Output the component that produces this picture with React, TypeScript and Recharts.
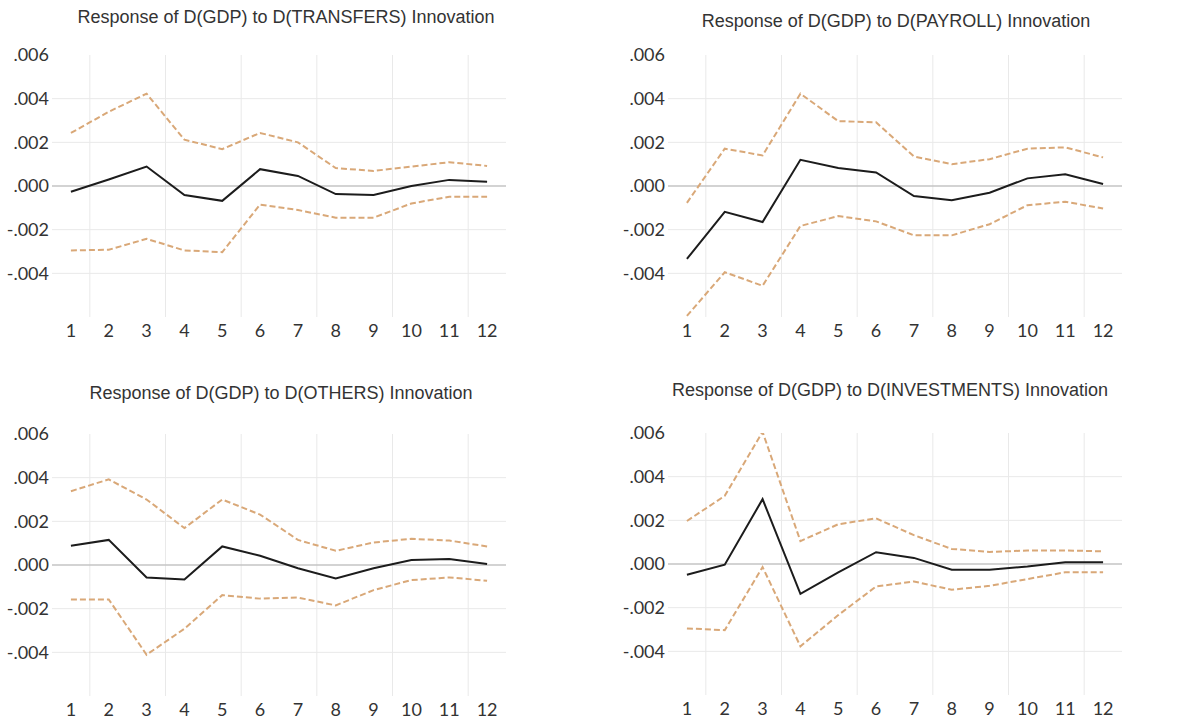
import React from "react";
import { LineChart, Line, XAxis, YAxis, CartesianGrid, ReferenceLine } from "recharts";

const periods = [1, 2, 3, 4, 5, 6, 7, 8, 9, 10, 11, 12];
const yTicks = [-0.004, -0.002, 0, 0.002, 0.004, 0.006];
const gridY = [-0.004, -0.002, 0.002, 0.004];
const gridX = [1.5, 3.5, 5.5, 7.5, 9.5, 11.5];

const titles = [
  "Response of D(GDP) to D(TRANSFERS) Innovation",
  "Response of D(GDP) to D(PAYROLL) Innovation",
  "Response of D(GDP) to D(OTHERS) Innovation",
  "Response of D(GDP) to D(INVESTMENTS) Innovation",
];

// values in thousandths (x 0.001)
const transfersResp = [-0.26, 0.3, 0.89, -0.41, -0.68, 0.77, 0.46, -0.37, -0.41, 0.0, 0.28, 0.2];
const transfersUpper = [2.43, 3.4, 4.23, 2.12, 1.69, 2.43, 2.0, 0.82, 0.69, 0.89, 1.09, 0.92];
const transfersLower = [-2.95, -2.92, -2.42, -2.95, -3.03, -0.85, -1.1, -1.45, -1.45, -0.8, -0.49, -0.49];

const payrollResp = [-3.34, -1.18, -1.65, 1.2, 0.82, 0.62, -0.46, -0.65, -0.31, 0.35, 0.54, 0.09];
const payrollUpper = [-0.77, 1.71, 1.4, 4.23, 2.97, 2.92, 1.35, 1.0, 1.23, 1.71, 1.77, 1.31];
const payrollLower = [-5.95, -3.95, -4.57, -1.83, -1.38, -1.62, -2.26, -2.26, -1.75, -0.88, -0.72, -1.03];

const othersResp = [0.88, 1.15, -0.57, -0.66, 0.85, 0.42, -0.15, -0.62, -0.15, 0.23, 0.28, 0.05];
const othersUpper = [3.38, 3.92, 3.0, 1.69, 3.0, 2.31, 1.15, 0.65, 1.03, 1.2, 1.12, 0.85];
const othersLower = [-1.58, -1.58, -4.11, -2.92, -1.38, -1.54, -1.49, -1.85, -1.15, -0.69, -0.57, -0.72];

const investResp = [-0.49, -0.03, 2.97, -1.37, -0.38, 0.54, 0.28, -0.26, -0.26, -0.11, 0.08, 0.08];
const investUpper = [1.97, 3.12, 6.05, 1.05, 1.82, 2.09, 1.32, 0.69, 0.55, 0.62, 0.62, 0.58];
const investLower = [-2.95, -3.03, -0.14, -3.77, -2.34, -1.03, -0.8, -1.18, -1.0, -0.69, -0.38, -0.38];

const build = (r: number[], u: number[], l: number[]) =>
  periods.map((p, i) => ({ p, resp: r[i] / 1000, upper: u[i] / 1000, lower: l[i] / 1000 }));

const panels = [
  { data: build(transfersResp, transfersUpper, transfersLower), left: 0, top: 0, plotLeft: 52, titleX: 286, titleY: 17 },
  { data: build(payrollResp, payrollUpper, payrollLower), left: 600, top: 0, plotLeft: 68, titleX: 896, titleY: 21 },
  { data: build(othersResp, othersUpper, othersLower), left: 0, top: 379, plotLeft: 52, titleX: 281, titleY: 393 },
  { data: build(investResp, investUpper, investLower), left: 600, top: 378, plotLeft: 68, titleX: 890, titleY: 390 },
];

const fmt = (v: number) => {
  const s = Math.abs(v).toFixed(3).replace(/^0/, "");
  return v < -1e-9 ? "-" + s : s;
};

const tickStyle = { fontFamily: "Lato, sans-serif", fontSize: 18, fill: "#333" };
const BAND = "#d9a878";
const PLOT_W = 454;
const PLOT_TOP = 55;
const PLOT_H = 262;
const CHART_W = 600;
const CHART_H = 350;

function Panel({ data, left, top, plotLeft }: any) {
  return (
    <div style={{ position: "absolute", left, top }}>
      <LineChart
        width={CHART_W}
        height={CHART_H}
        data={data}
        margin={{ top: PLOT_TOP, left: 0, right: CHART_W - plotLeft - PLOT_W, bottom: CHART_H - PLOT_TOP - PLOT_H - 30 }}
      >
        <CartesianGrid stroke="#e9e9e9" strokeWidth={1} horizontalValues={gridY} verticalValues={gridX} />
        <XAxis
          dataKey="p"
          type="number"
          domain={[0.5, 12.5]}
          ticks={periods}
          interval={0}
          axisLine={false}
          tickLine={false}
          tickSize={0}
          tickMargin={7}
          height={30}
          tick={tickStyle}
        />
        <YAxis
          type="number"
          domain={[-0.006, 0.006]}
          ticks={yTicks}
          allowDataOverflow
          axisLine={false}
          tickLine={false}
          tickSize={0}
          tickMargin={3}
          width={plotLeft}
          tickFormatter={fmt}
          tick={tickStyle}
        />
        <ReferenceLine y={0} stroke="#c4c4c4" strokeWidth={1.5} />
        <Line dataKey="upper" stroke={BAND} strokeWidth={2} strokeDasharray="6 3" dot={false} isAnimationActive={false} />
        <Line dataKey="lower" stroke={BAND} strokeWidth={2} strokeDasharray="6 3" dot={false} isAnimationActive={false} />
        <Line dataKey="resp" stroke="#1c1c1c" strokeWidth={2} dot={false} isAnimationActive={false} />
      </LineChart>
    </div>
  );
}

export default function App() {
  return (
    <div style={{ position: "absolute", left: 0, top: 0, width: 1201, height: 728, background: "#fff", overflow: "hidden" }}>
      {panels.map((pn, i) => (
        <React.Fragment key={i}>
          <Panel {...pn} />
          <div
            style={{
              position: "absolute",
              left: pn.titleX - 300,
              width: 600,
              top: pn.titleY - 11,
              textAlign: "center",
              fontFamily: "'Liberation Sans', Arial, sans-serif",
              fontSize: 18,
              color: "#333",
              whiteSpace: "nowrap",
              lineHeight: "22px",
            }}
          >
            {titles[i]}
          </div>
        </React.Fragment>
      ))}
    </div>
  );
}
